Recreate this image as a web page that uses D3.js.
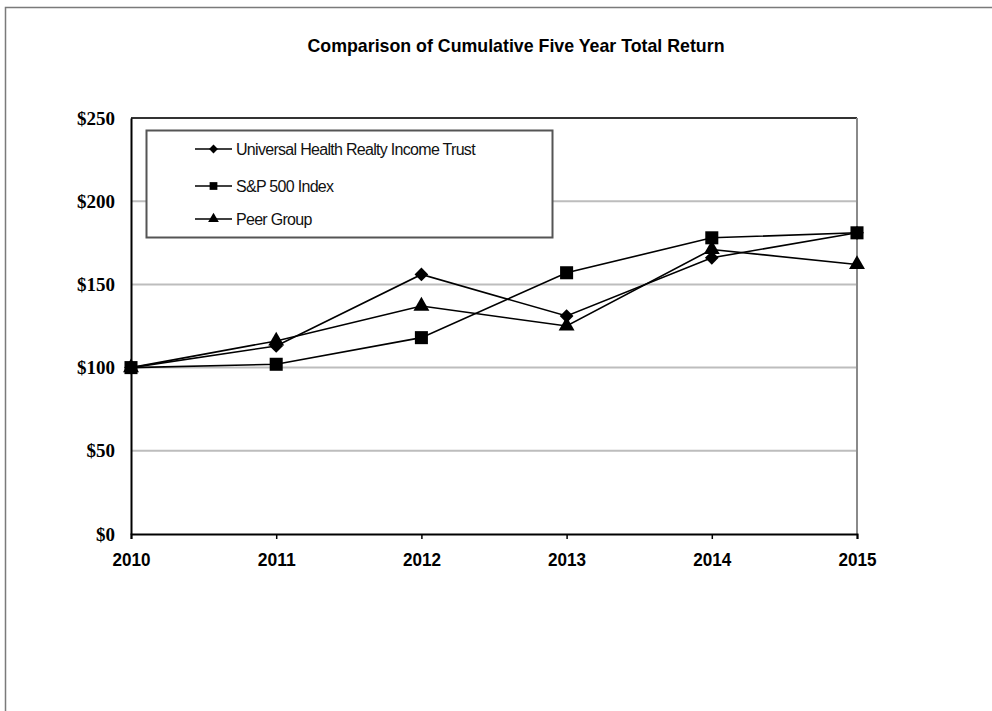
<!DOCTYPE html>
<html lang="en">
  <head>
    <meta charset="utf-8">
    <script src="https://cdn.jsdelivr.net/npm/d3@7"></script>
    <style>
      body { margin: 0; background: #fff; }
    </style>
  </head>
  <body>
    <script type="text/javascript">

      // Data
      var years = [2010, 2011, 2012, 2013, 2014, 2015];
      var uhtValues = [100, 113, 156, 131, 166, 181];
      var spValues = [100, 102, 118, 157, 178, 181];
      var peerValues = [100, 116, 137, 125, 171, 162];
      var yTicks = [0, 50, 100, 150, 200, 250];
      var seriesNames = ["Universal Health Realty Income Trust", "S&P 500 Index", "Peer Group"];

      var series = [
        {name: seriesNames[0], values: uhtValues, shape: d3.symbolDiamond2},
        {name: seriesNames[2], values: peerValues, shape: d3.symbolTriangle},
        {name: seriesNames[1], values: spValues, shape: d3.symbolSquare}
      ];

      var svgWidth = 992;
      var svgHeight = 711;

      var svg = d3.select("body")
        .append("svg")
        .attr("width", svgWidth)
        .attr("height", svgHeight);

      // outer frame
      svg.append("path")
        .attr("d", "M5.5,711 V7.5 H992")
        .attr("fill", "none")
        .attr("stroke", "#7a7a7a")
        .attr("stroke-width", 1.5);

      svg.append("text")
        .attr("x", 516)
        .attr("y", 52)
        .attr("text-anchor", "middle")
        .attr("font-family", "Liberation Sans, Arial, sans-serif")
        .attr("font-weight", "bold")
        .attr("font-size", 19)
        .attr("textLength", 417)
        .attr("lengthAdjust", "spacingAndGlyphs")
        .text("Comparison of Cumulative Five Year Total Return");

      var x = d3.scaleLinear().domain([2010, 2015]).range([131, 857]);
      var y = d3.scaleLinear().domain([0, 250]).range([534, 118]);

      // gridlines
      svg.append("g")
        .selectAll("line")
        .data(yTicks.filter(function(d) { return d > 0 && d < 250; }))
        .enter().append("line")
        .attr("x1", x(2010))
        .attr("x2", x(2015))
        .attr("y1", function(d) { return y(d); })
        .attr("y2", function(d) { return y(d); })
        .attr("stroke", "#bdbdbd")
        .attr("stroke-width", 2);

      // plot frame top + right
      svg.append("line")
        .attr("x1", x(2010)).attr("x2", x(2015))
        .attr("y1", y(250)).attr("y2", y(250))
        .attr("stroke", "#333").attr("stroke-width", 2);
      svg.append("line")
        .attr("x1", x(2015)).attr("x2", x(2015))
        .attr("y1", y(250)).attr("y2", y(0))
        .attr("stroke", "#8a8a8a").attr("stroke-width", 2);

      // axes
      var xAxis = d3.axisBottom(x)
        .tickValues(years)
        .tickFormat(d3.format("d"))
        .tickSize(5)
        .tickPadding(14);
      var gx = svg.append("g")
        .attr("transform", "translate(0," + y(0) + ")")
        .call(xAxis);
      gx.select(".domain").attr("stroke", "#000").attr("stroke-width", 2);
      gx.selectAll(".tick line").attr("stroke", "#000").attr("stroke-width", 1.5);
      gx.selectAll("text")
        .attr("fill", "#000")
        .attr("font-family", "Liberation Sans, Arial, sans-serif")
        .attr("font-weight", "bold")
        .attr("font-size", 18)
        .attr("textLength", 38)
        .attr("lengthAdjust", "spacingAndGlyphs");

      var yAxis = d3.axisLeft(y)
        .tickValues(yTicks)
        .tickFormat(function(d) { return "$" + d; })
        .tickSize(0)
        .tickPadding(16);
      var gy = svg.append("g")
        .attr("transform", "translate(" + x(2010) + ",0)")
        .call(yAxis);
      gy.select(".domain").attr("stroke", "#000").attr("stroke-width", 2);
      gy.selectAll("text")
        .attr("fill", "#000")
        .attr("font-family", "Liberation Serif, Times New Roman, serif")
        .attr("font-weight", "bold")
        .attr("font-size", 19);

      // legend box
      svg.append("rect")
        .attr("x", 146.5)
        .attr("y", 130.5)
        .attr("width", 406)
        .attr("height", 107)
        .attr("fill", "#fff")
        .attr("stroke", "#555")
        .attr("stroke-width", 2);

      var line = d3.line()
        .x(function(d, i) { return x(years[i]); })
        .y(function(d) { return y(d); });

      var sg = svg.selectAll(".series")
        .data(series)
        .enter().append("g")
        .attr("class", "series");

      sg.append("path")
        .attr("d", function(s) { return line(s.values); })
        .attr("fill", "none")
        .attr("stroke", "#000")
        .attr("stroke-width", 1.6);

      sg.selectAll(".mark")
        .data(function(s) { return s.values.map(function(v, i) { return {v: v, i: i, s: s}; }); })
        .enter().append("path")
        .attr("class", "mark")
        .attr("transform", function(d) { return "translate(" + x(years[d.i]) + "," + y(d.v) + ")"; })
        .attr("d", function(d) {
          var size = d.s.shape === d3.symbolSquare ? 170 : (d.s.shape === d3.symbolTriangle ? 110 : 120);
          return d3.symbol().type(d.s.shape).size(size)();
        })
        .attr("fill", "#000");

      // legend entries
      var legendOrder = [series[0], series[2], series[1]];
      var rowY = [149, 186, 219];
      var lg = svg.selectAll(".legend")
        .data(legendOrder)
        .enter().append("g")
        .attr("class", "legend")
        .attr("transform", function(d, i) { return "translate(195," + rowY[i] + ")"; });

      lg.append("line")
        .attr("x1", 0).attr("x2", 37)
        .attr("stroke", "#000").attr("stroke-width", 1.5);
      lg.append("path")
        .attr("transform", "translate(18.5,0)")
        .attr("d", function(d) {
          var size = d.shape === d3.symbolSquare ? 60 : 50;
          return d3.symbol().type(d.shape).size(size)();
        })
        .attr("fill", "#000");
      lg.append("text")
        .attr("x", 41)
        .attr("y", 6)
        .attr("font-family", "Liberation Sans, Arial, sans-serif")
        .attr("font-size", 16)
        .attr("letter-spacing", -0.7)
        .attr("fill", "#111")
        .text(function(d) { return d.name; });

    </script>
  </body>
</html>
